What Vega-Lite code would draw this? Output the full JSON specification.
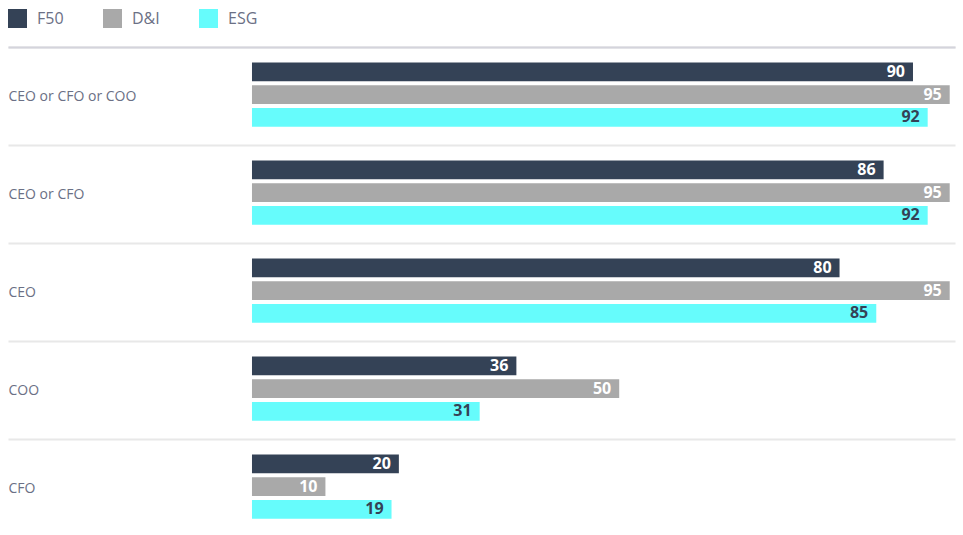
{
  "$schema": "https://vega.github.io/schema/vega-lite/v6.json",
  "width": 947,
  "height": 490,
  "autosize": {"type": "none"},
  "padding": {"left": 8, "top": 47, "right": 8, "bottom": 0},
  "background": "white",
  "config": {"view": {"stroke": null}, "font": "Open Sans"},
  "data": {
    "values": [
      {"category": "CEO or CFO or COO", "series": "F50", "value": 90},
      {"category": "CEO or CFO or COO", "series": "D&I", "value": 95},
      {"category": "CEO or CFO or COO", "series": "ESG", "value": 92},
      {"category": "CEO or CFO", "series": "F50", "value": 86},
      {"category": "CEO or CFO", "series": "D&I", "value": 95},
      {"category": "CEO or CFO", "series": "ESG", "value": 92},
      {"category": "CEO", "series": "F50", "value": 80},
      {"category": "CEO", "series": "D&I", "value": 95},
      {"category": "CEO", "series": "ESG", "value": 85},
      {"category": "COO", "series": "F50", "value": 36},
      {"category": "COO", "series": "D&I", "value": 50},
      {"category": "COO", "series": "ESG", "value": 31},
      {"category": "CFO", "series": "F50", "value": 20},
      {"category": "CFO", "series": "D&I", "value": 10},
      {"category": "CFO", "series": "ESG", "value": 19}
    ]
  },
  "encoding": {
    "y": {
      "field": "category",
      "type": "nominal",
      "sort": ["CEO or CFO or COO", "CEO or CFO", "CEO", "COO", "CFO"],
      "scale": {"paddingInner": 0, "paddingOuter": 0},
      "axis": {
        "title": null,
        "domain": false,
        "ticks": false,
        "tickSize": 0,
        "labelPadding": 0,
        "labelAlign": "left",
        "labelFontSize": 14,
        "labelColor": "#6b7085",
        "grid": true,
        "tickBand": "extent",
        "gridColor": "#e8e8e8",
        "gridWidth": 2
      }
    },
    "yOffset": {
      "field": "series",
      "sort": ["F50", "D&I", "ESG"],
      "scale": {"paddingInner": 0.176, "paddingOuter": 0.746, "align": 0.46}
    },
    "x": {
      "field": "value",
      "type": "quantitative",
      "scale": {"domain": [-33.22, 95.72], "nice": false},
      "axis": {"orient": "top", "title": null, "labels": false, "ticks": false, "grid": false, "domain": true, "domainColor": "#d4d4dc", "domainWidth": 2}
    }
  },
  "layer": [
    {
      "mark": {"type": "bar"},
      "encoding": {
        "color": {
          "field": "series",
          "type": "nominal",
          "sort": ["F50", "D&I", "ESG"],
          "scale": {"domain": ["F50", "D&I", "ESG"], "range": ["#344256", "#a9a9a9", "#66fcfc"]},
          "legend": {
            "title": null,
            "orient": "none",
            "legendX": 0,
            "legendY": -38,
            "direction": "horizontal",
            "symbolType": "square",
            "symbolSize": 361,
            "symbolStrokeWidth": 0,
            "symbolOpacity": 1,
            "labelFontSize": 16,
            "labelColor": "#6b7085",
            "labelOffset": 10,
            "columnPadding": 39
          }
        }
      }
    },
    {
      "mark": {"type": "text", "align": "right", "dx": -8, "fontWeight": "bold", "fontSize": 16, "baseline": "middle"},
      "encoding": {
        "text": {"field": "value", "type": "quantitative"},
        "color": {"condition": {"test": "datum.series === 'ESG'", "value": "#344256"}, "value": "#ffffff"}
      }
    }
  ]
}
